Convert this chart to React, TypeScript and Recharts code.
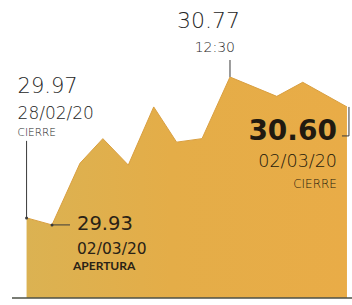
import * as React from 'react';
import { AreaChart, Area, XAxis, YAxis, ReferenceDot, ReferenceLine } from 'recharts';

// hours of the session (first point is the previous close)
const times = [8.5, 9.0, 9.55, 10.0, 10.5, 11.0, 11.45, 11.95, 12.5, 13.42, 13.93, 14.8];
const prices = [29.97, 29.93, 30.28, 30.42, 30.27, 30.6, 30.4, 30.42, 30.77, 30.66, 30.74, 30.6];

const noteIndex = [0, 1, 8, 11];
const noteValue = ['29.97', '29.93', '30.77', '30.60'];
const noteSub = ['28/02/20', '02/03/20', '12:30', '02/03/20'];
const noteTag = ['CIERRE', 'APERTURA', '', 'CIERRE'];

const data = times.map((t, i) => ({ t, price: prices[i] }));

const xMin = 8.2135;
const xMax = 14.899;
const yMin = 29.515;
const yMax = 30.77;

const FONT = '"DejaVu Sans", sans-serif';
const GREY = '#262626';
const INK = '#2a2216';
const LINE = '#3a3a3a';

function Note({ k, cx, cy }: { k: number, cx: number, cy: number }) {
  if (k === 0) {
    return <g>
      <line x1={cx} x2={cx} y1={cy - 77} y2={cy} stroke={LINE} strokeWidth={1} />
      <circle cx={cx} cy={cy} r={1.5} fill={LINE} />
      <text x={cx - 9} y={cy - 125} fontFamily={FONT} fontWeight={200} fontSize={21} fill={GREY}>{noteValue[0]}</text>
      <text x={cx - 9} y={cy - 99} fontFamily={FONT} fontWeight={200} fontSize={17} fill={GREY}>{noteSub[0]}</text>
      <text x={cx - 9} y={cy - 82} fontFamily={FONT} fontWeight={200} fontSize={10.5} fill={GREY}>{noteTag[0]}</text>
    </g>;
  }
  if (k === 1) {
    return <g>
      <line x1={cx} x2={cx + 18} y1={cy} y2={cy} stroke={LINE} strokeWidth={1} />
      <circle cx={cx} cy={cy} r={1.5} fill={LINE} />
      <text x={cx + 25} y={cy + 5} fontFamily={FONT} fontSize={19.5} fill={INK}>{noteValue[1]}</text>
      <text x={cx + 25} y={cy + 29} fontFamily={FONT} fontSize={15.5} fill={INK}>{noteSub[1]}</text>
      <text x={cx + 21} y={cy + 45} fontFamily="Lato, sans-serif" fontWeight={700} fontSize={12} fill={INK}>{noteTag[1]}</text>
    </g>;
  }
  if (k === 2) {
    return <g>
      <line x1={cx} x2={cx} y1={cy - 17} y2={cy} stroke={LINE} strokeWidth={1} />
      <text x={cx + 10} y={cy - 49} textAnchor="end" fontFamily={FONT} fontWeight={200} fontSize={22} fill={GREY}>{noteValue[2]}</text>
      <text x={cx + 5} y={cy - 25} textAnchor="end" fontFamily={FONT} fontWeight={200} fontSize={14} fill={GREY}>{noteSub[2]}</text>
    </g>;
  }
  return <g>
    <line x1={cx + 2} x2={cx + 2} y1={cy} y2={cy + 29} stroke={LINE} strokeWidth={1} />
    <line x1={cx - 5} x2={cx + 2} y1={cy + 29} y2={cy + 29} stroke={LINE} strokeWidth={1} />
    <text x={cx - 10} y={cy + 33} textAnchor="end" fontFamily={FONT} fontWeight={700} fontSize={28} fill="#211a10">{noteValue[3]}</text>
    <text x={cx - 10} y={cy + 60} textAnchor="end" fontFamily={FONT} fontWeight={200} fontSize={17.5} fill="#241a0c">{noteSub[3]}</text>
    <text x={cx - 10} y={cy + 81} textAnchor="end" fontFamily={FONT} fontWeight={200} fontSize={12} fill="#241a0c">{noteTag[3]}</text>
  </g>;
}

export default function App() {
  return <div style={{ position: 'absolute', left: 0, top: 0, background: '#fff' }}>
    <AreaChart width={352} height={305} data={data} margin={{ top: 77, right: 0, bottom: 7, left: 12 }}>
      <defs>
        <linearGradient id="gold" x1="0" y1="0" x2="1" y2="0">
          <stop offset="0" stopColor="#dbb252" />
          <stop offset="0.45" stopColor="#e4ad48" />
          <stop offset="1" stopColor="#e9ac47" />
        </linearGradient>
      </defs>
      <XAxis dataKey="t" type="number" domain={[xMin, xMax]} allowDataOverflow hide />
      <YAxis type="number" domain={[yMin, yMax]} allowDataOverflow hide />
      <Area type="linear" dataKey="price" stroke="#d99f40" strokeWidth={1} fill="url(#gold)" fillOpacity={1}
        dot={false} activeDot={false} isAnimationActive={false} />
      <ReferenceLine y={yMin} stroke="#4d5046" strokeWidth={1.5} />
      {noteIndex.map((idx, k) => <ReferenceDot key={k} x={times[idx]} y={prices[idx]} ifOverflow="visible"
        shape={(p: any) => <Note k={k} cx={p.cx} cy={p.cy} />} />)}
    </AreaChart>
  </div>;
}
